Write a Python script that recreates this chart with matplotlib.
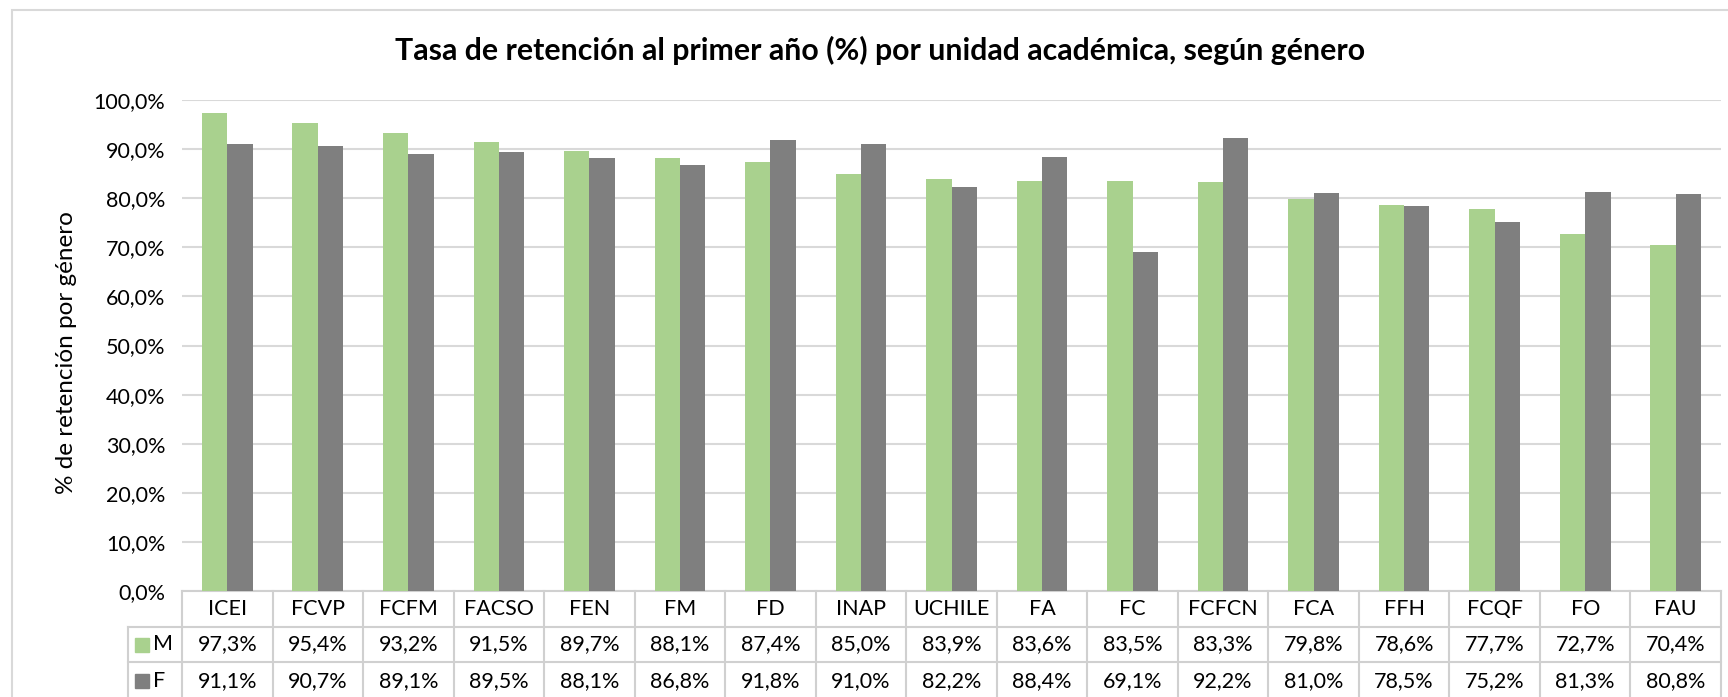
import matplotlib
matplotlib.use('Agg')
import matplotlib.pyplot as plt
import numpy as np
from matplotlib.patches import Rectangle
from matplotlib.lines import Line2D
from matplotlib.ticker import FuncFormatter
import matplotlib.transforms as mtrans

plt.rcParams['font.family'] = ['Lato', 'DejaVu Sans']

units = ['ICEI', 'FCVP', 'FCFM', 'FACSO', 'FEN', 'FM', 'FD', 'INAP', 'UCHILE',
         'FA', 'FC', 'FCFCN', 'FCA', 'FFH', 'FCQF', 'FO', 'FAU']
ret_m = [97.3, 95.4, 93.2, 91.5, 89.7, 88.1, 87.4, 85.0, 83.9, 83.6, 83.5, 83.3, 79.8, 78.6, 77.7, 72.7, 70.4]
ret_f = [91.1, 90.7, 89.1, 89.5, 88.1, 86.8, 91.8, 91.0, 82.2, 88.4, 69.1, 92.2, 81.0, 78.5, 75.2, 81.3, 80.8]
series = ['M', 'F']

GREEN = '#A9D18E'
GRAY = '#7F7F7F'
GRID = '#D9D9D9'

W, H = 1728, 697
fig = plt.figure(figsize=(W / 100, H / 100), dpi=100)

# outer chart border (cut off at right/bottom like the source)
fig.add_artist(Rectangle((12 / W, -0.1), 1.2, (H - 10) / H + 0.1, transform=fig.transFigure,
                         fill=False, edgecolor=GRID, linewidth=1.5))

ax = fig.add_axes([182 / W, 106 / H, (1721 - 182) / W, 491 / H])
x = np.arange(len(units))
bw = 0.28
ax.bar(x - bw / 2, ret_m, bw, color=GREEN, zorder=3)
ax.bar(x + bw / 2, ret_f, bw, color=GRAY, zorder=3)

ax.set_xlim(-0.5, len(units) - 0.5)
ax.set_ylim(0, 100)
ax.set_yticks(np.arange(0, 101, 10))
ax.yaxis.set_major_formatter(FuncFormatter(lambda v, p: f'{v:.1f}%'.replace('.', ',')))
ax.tick_params(axis='y', length=0, labelsize=15.5, pad=12)
ax.set_xticks([])
ax.grid(axis='y', color=GRID, linewidth=1.5, zorder=0)
for s in ax.spines.values():
    s.set_visible(False)

ax.set_ylabel('% de retención por género', fontsize=17.5)
ax.yaxis.set_label_coords(-0.068, 0.485)

fig.text(880 / W, 1 - 50 / H, 'Tasa de retención al primer año (%) por unidad académica, según género',
         ha='center', va='center', fontsize=21.8, fontweight='bold')

# data table below the axes
tr = mtrans.blended_transform_factory(ax.transData, ax.transAxes)
px = 1 / 491.0
row_edges = [0, -36 * px, -71 * px, -110 * px]
lc = '#D0D0D0'
lw = 1.5
for yy in row_edges:
    ax.add_line(Line2D([-0.5, len(units) - 0.5], [yy, yy], transform=tr, color=lc, lw=lw, clip_on=False))
for k in range(len(units) + 1):
    ax.add_line(Line2D([k - 0.5, k - 0.5], [0, row_edges[-1]], transform=tr, color=lc, lw=lw, clip_on=False))
lab_left = -0.5 - 54 / 90.5
for yy in row_edges[1:]:
    ax.add_line(Line2D([lab_left, -0.5], [yy, yy], transform=tr, color=lc, lw=lw, clip_on=False))
ax.add_line(Line2D([lab_left, lab_left], [row_edges[1], row_edges[-1]], transform=tr, color=lc, lw=lw, clip_on=False))

fs = 15.5
for i, u in enumerate(units):
    ax.text(i, (row_edges[0] + row_edges[1]) / 2, u, transform=tr, ha='center', va='center', fontsize=fs, clip_on=False)
vals = [ret_m, ret_f]
colors = [GREEN, GRAY]
for r in range(2):
    yc = (row_edges[r + 1] + row_edges[r + 2]) / 2 if r == 0 else row_edges[2] - 19 * px
    for i in range(len(units)):
        ax.text(i, yc, f'{vals[r][i]:.1f}%'.replace('.', ','), transform=tr, ha='center', va='center',
                fontsize=fs, clip_on=False)
    ax.add_patch(Rectangle((lab_left + 0.08, yc - 7 * px), 0.155, 14 * px, transform=tr,
                           color=colors[r], clip_on=False))
    ax.text(lab_left + 0.28, yc, series[r], transform=tr, ha='left', va='center', fontsize=fs, clip_on=False)

fig.savefig('out.png', dpi=100)
